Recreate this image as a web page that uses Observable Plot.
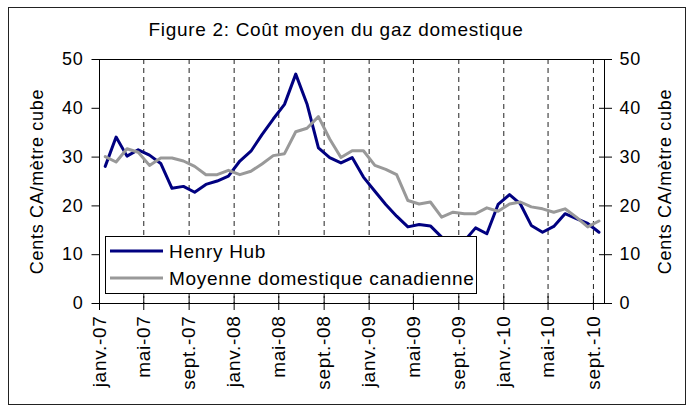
<!DOCTYPE html>
<html>
<head>
<meta charset="utf-8">
<script src="https://cdn.jsdelivr.net/npm/d3@7"></script>
<script src="https://cdn.jsdelivr.net/npm/@observablehq/plot@0.6"></script>
<style>
  html, body { margin: 0; padding: 0; background: #fff; }
  #wrap { position: relative; width: 690px; height: 406px; overflow: hidden; font-family: "Liberation Sans", Arial, sans-serif; }
  #border { position: absolute; left: 8px; top: 7px; width: 676px; height: 396px; border: 1.5px solid #222; }
  #title { position: absolute; left: 0; top: 19px; width: 672px; text-align: center; font-size: 19px; letter-spacing: 0.7px; color: #000; white-space: nowrap; }
  #chart { position: absolute; left: 0; top: 0; }
  #legend { position: absolute; left: 105px; top: 236px; width: 370px; height: 56px; border: 1.5px solid #000; background: #fff; }
  #legend svg { position: absolute; left: 0; top: 0; }
</style>
</head>
<body>
<div id="wrap">
  <div id="border"></div>
  <div id="chart"></div>
  <div id="title">Figure 2: Coût moyen du gaz domestique</div>
  <div id="legend"></div>
</div>
<script>
// Monthly observations, janv. 2007 – sept. 2010
const startMonth = "2007-01-01";
const endMonth = "2010-10-01";
const seriesNames = ["Henry Hub", "Moyenne domestique canadienne"];
const henryHub = [
  28.1, 34.1, 30.2, 31.5, 30.4, 28.7, 23.6, 24.0, 22.8, 24.4, 25.1, 26.1,
  29.2, 31.2, 34.6, 37.8, 40.8, 47.0, 40.9, 31.9, 29.9, 28.8, 29.9, 25.9,
  23.0, 20.3, 17.9, 15.7, 16.2, 15.9, 13.6, 12.5, 12.8, 15.5, 14.3, 20.3,
  22.3, 20.4, 16.0, 14.6, 15.8, 18.4, 17.4, 16.4, 14.6
];
const canadianAvg = [
  30.1, 29.0, 31.7, 31.0, 28.3, 29.8, 29.8, 29.2, 28.1, 26.4, 26.4, 27.3,
  26.4, 27.1, 28.6, 30.3, 30.7, 35.2, 35.9, 38.3, 33.7, 29.9, 31.3, 31.3,
  28.3, 27.5, 26.4, 21.1, 20.4, 20.8, 17.7, 18.7, 18.4, 18.4, 19.6, 18.9,
  20.4, 20.8, 19.8, 19.4, 18.7, 19.4, 17.7, 15.7, 16.9
];
const tickDates = ["2007-01-01","2007-05-01","2007-09-01","2008-01-01","2008-05-01","2008-09-01",
                   "2009-01-01","2009-05-01","2009-09-01","2010-01-01","2010-05-01","2010-09-01"];
const tickLabels = ["janv.-07","mai-07","sept.-07","janv.-08","mai-08","sept.-08",
                    "janv.-09","mai-09","sept.-09","janv.-10","mai-10","sept.-10"];
const yTicks = [0, 10, 20, 30, 40, 50];
const yLabel = "Cents CA/mètre cube";

const months = d3.utcMonths(new Date(startMonth), new Date(endMonth));
const mid = m => new Date((+m + +d3.utcMonth.offset(m, 1)) / 2);
const data = months.map((m, i) => ({date: mid(m), hh: henryHub[i], cad: canadianAvg[i]}));
const ticks = tickDates.map(d => new Date(d));

const W = 690, H = 406, mL = 99, mR = 86, mT = 59, mB = 103;
const plotW = W - mL - mR, plotH = H - mT - mB;

const chart = Plot.plot({
  width: W, height: H,
  marginLeft: mL, marginRight: mR, marginTop: mT, marginBottom: mB,
  style: {fontFamily: "'Liberation Sans', Arial, sans-serif", fontSize: "18px", background: "transparent", color: "#000", letterSpacing: "0.7px", overflow: "visible"},
  x: {type: "utc", domain: [new Date(startMonth), new Date(endMonth)], axis: null},
  y: {domain: [0, 50], axis: null},
  marks: [
    Plot.ruleX(ticks.slice(1), {x: d => d, stroke: "#222", strokeDasharray: "5,4", strokeWidth: 1}),
    Plot.lineY(data, {x: "date", y: "hh", stroke: "#000080", strokeWidth: 3}),
    Plot.lineY(data, {x: "date", y: "cad", stroke: "#999999", strokeWidth: 3}),
    Plot.frame({stroke: "#000", strokeWidth: 1}),
    Plot.axisY({ticks: yTicks, anchor: "left", tickSize: 7.5, tickPadding: 8.5, label: null, fontSize: 18}),
    Plot.axisY({ticks: yTicks, anchor: "right", tickSize: 7, tickPadding: 8, label: null, fontSize: 18}),
    Plot.tickY(yTicks, {y: d => d, insetLeft: plotW - 5, stroke: "#000"}),
    Plot.tickX(ticks, {x: d => d, insetTop: plotH - 7, insetBottom: -7, stroke: "#000"}),
    Plot.text(ticks, {x: d => d, text: (d, i) => tickLabels[i], frameAnchor: "bottom", rotate: -90,
                      textAnchor: "end", lineAnchor: "middle", dy: 12, fontSize: 19}),
    Plot.text([yLabel], {text: d => d, frameAnchor: "left", textAnchor: "middle", lineAnchor: "middle", rotate: -90, dx: -62, fontSize: 18}),
    Plot.text([yLabel], {text: d => d, frameAnchor: "right", textAnchor: "middle", lineAnchor: "middle", rotate: -90, dx: 61, fontSize: 18})
  ]
});
document.getElementById("chart").appendChild(chart);

// Legend
const lg = d3.select("#legend").append("svg").attr("width", 370).attr("height", 56)
  .style("font-family", "'Liberation Sans', Arial, sans-serif").style("font-size", "19px").style("letter-spacing", "0.7px");
const legendColors = ["#000080", "#999999"];
seriesNames.forEach((name, i) => {
  const y = 14 + i * 27;
  lg.append("line").attr("x1", 4).attr("x2", 57).attr("y1", y).attr("y2", y)
    .attr("stroke", legendColors[i]).attr("stroke-width", 3);
  lg.append("text").attr("x", 63).attr("y", y + 7).text(name).attr("fill", "#000");
});
</script>
</body>
</html>
